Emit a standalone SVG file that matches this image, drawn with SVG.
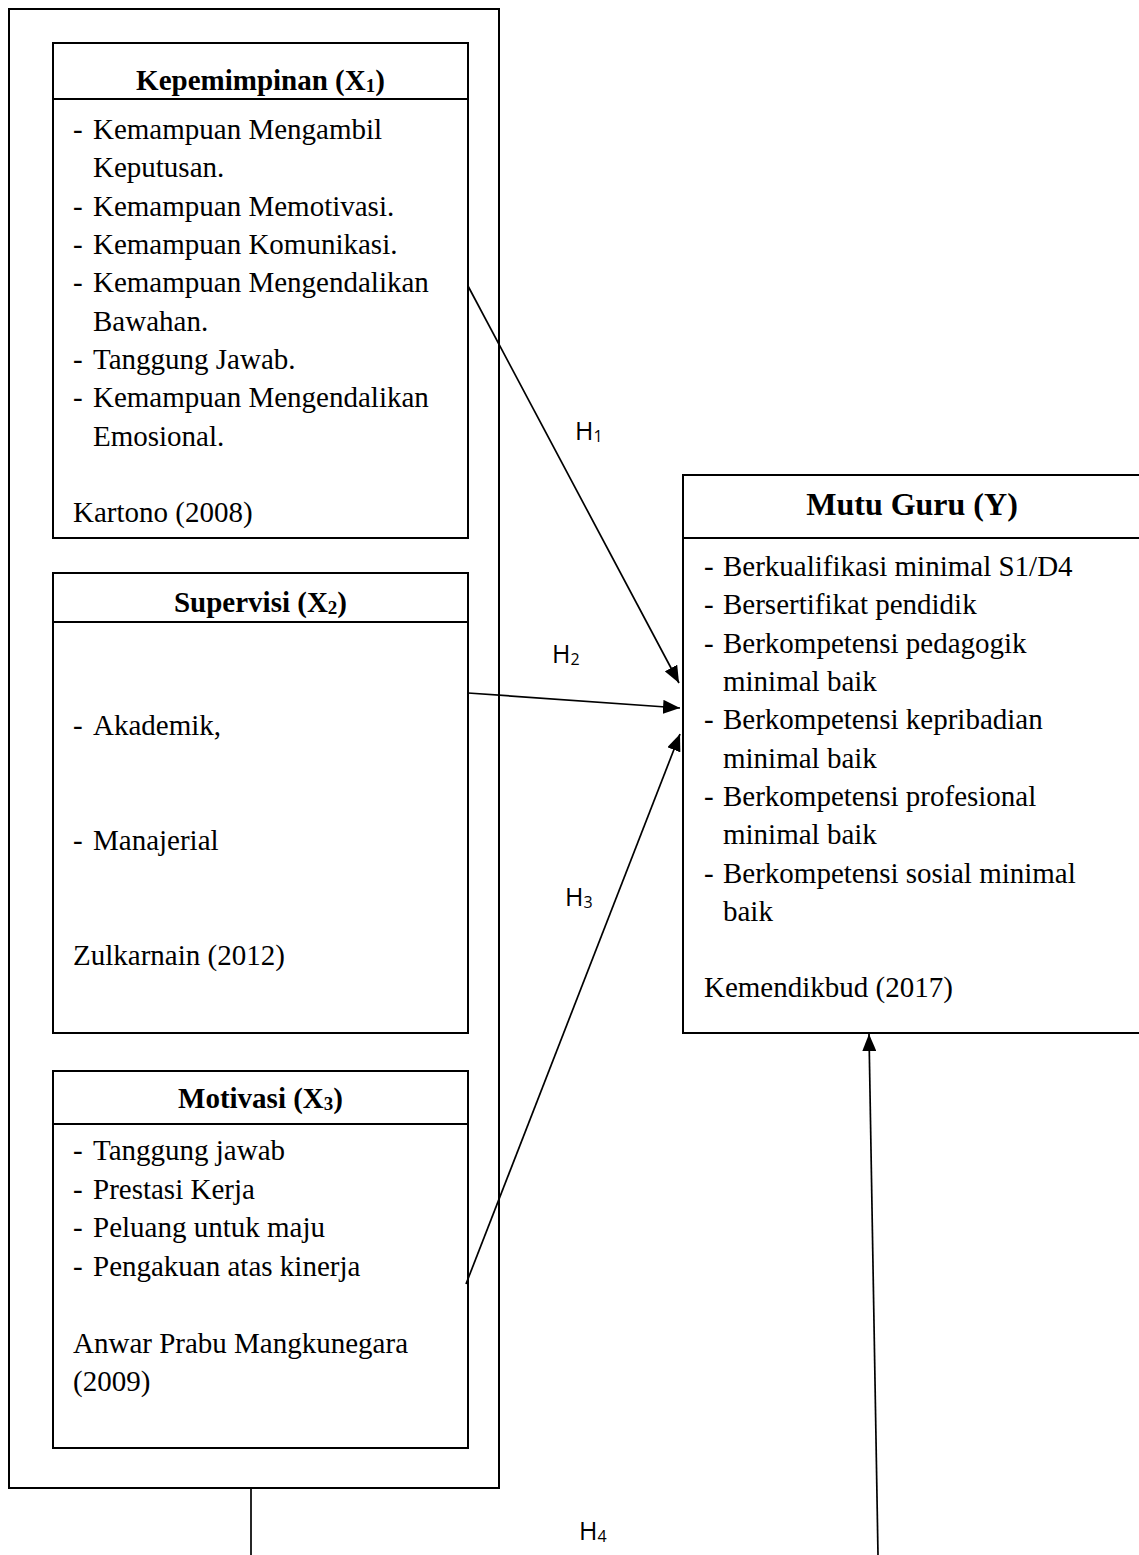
<svg xmlns="http://www.w3.org/2000/svg" width="1139" height="1555" viewBox="0 0 1139 1555">
<style>
.box{fill:none;stroke:#000;stroke-width:2}
.div{stroke:#000;stroke-width:2}
.t{font-family:"Liberation Serif","Times New Roman",serif;font-size:29px;fill:#000}
.hd{font-family:"Liberation Serif","Times New Roman",serif;font-size:29px;font-weight:bold;fill:#000;text-anchor:middle}
.hdy{font-family:"Liberation Serif","Times New Roman",serif;font-size:32px;font-weight:bold;fill:#000;text-anchor:middle}
.sub{font-size:19px}
.h{font-family:"Open Sans","Liberation Sans",sans-serif;font-size:25px;fill:#000}
.hs{font-size:16px}
.c{fill:none;stroke:#000;stroke-width:1.7}
</style>
<defs>
<marker id="arr" markerUnits="userSpaceOnUse" viewBox="0 0 17 14" refX="17" refY="7" markerWidth="17" markerHeight="14" orient="auto">
<path d="M0,0 L17,7 L0,14 Z" fill="#000"/>
</marker>
</defs>
<rect width="1139" height="1555" fill="#fff"/>

<g id="outer">
<rect class="box" x="9" y="9" width="490" height="1479"/>
</g>

<g id="kepemimpinan">
<rect class="box" x="53" y="43" width="415" height="495"/>
<line class="div" x1="53" y1="99" x2="468" y2="99"/>
<text class="hd" x="260.5" y="90">Kepemimpinan (X<tspan class="sub" dy="2">1</tspan><tspan dy="-2">)</tspan></text>
<text class="t" x="73" y="139">-</text><text class="t" x="93" y="139">Kemampuan Mengambil</text>
<text class="t" x="93" y="177">Keputusan.</text>
<text class="t" x="73" y="216">-</text><text class="t" x="93" y="216">Kemampuan Memotivasi.</text>
<text class="t" x="73" y="254">-</text><text class="t" x="93" y="254">Kemampuan Komunikasi.</text>
<text class="t" x="73" y="292">-</text><text class="t" x="93" y="292">Kemampuan Mengendalikan</text>
<text class="t" x="93" y="331">Bawahan.</text>
<text class="t" x="73" y="369">-</text><text class="t" x="93" y="369">Tanggung Jawab.</text>
<text class="t" x="73" y="407">-</text><text class="t" x="93" y="407">Kemampuan Mengendalikan</text>
<text class="t" x="93" y="446">Emosional.</text>
<text class="t" x="73" y="522">Kartono (2008)</text>
</g>

<g id="supervisi">
<rect class="box" x="53" y="573" width="415" height="460"/>
<line class="div" x1="53" y1="622" x2="468" y2="622"/>
<text class="hd" x="260.5" y="612">Supervisi (X<tspan class="sub" dy="2">2</tspan><tspan dy="-2">)</tspan></text>
<text class="t" x="73" y="735">-</text><text class="t" x="93" y="735">Akademik,</text>
<text class="t" x="73" y="850">-</text><text class="t" x="93" y="850">Manajerial</text>
<text class="t" x="73" y="965">Zulkarnain (2012)</text>
</g>

<g id="motivasi">
<rect class="box" x="53" y="1071" width="415" height="377"/>
<line class="div" x1="53" y1="1124" x2="468" y2="1124"/>
<text class="hd" x="260.5" y="1108">Motivasi (X<tspan class="sub" dy="2">3</tspan><tspan dy="-2">)</tspan></text>
<text class="t" x="73" y="1160">-</text><text class="t" x="93" y="1160">Tanggung jawab</text>
<text class="t" x="73" y="1199">-</text><text class="t" x="93" y="1199">Prestasi Kerja</text>
<text class="t" x="73" y="1237">-</text><text class="t" x="93" y="1237">Peluang untuk maju</text>
<text class="t" x="73" y="1276">-</text><text class="t" x="93" y="1276">Pengakuan atas kinerja</text>
<text class="t" x="73" y="1353">Anwar Prabu Mangkunegara</text>
<text class="t" x="73" y="1391">(2009)</text>
</g>

<g id="mutu-guru">
<rect class="box" x="683" y="475" width="460" height="558"/>
<line class="div" x1="683" y1="538" x2="1143" y2="538"/>
<text class="hdy" x="912" y="515">Mutu Guru (Y)</text>
<text class="t" x="704" y="576">-</text><text class="t" x="723" y="576">Berkualifikasi minimal S1/D4</text>
<text class="t" x="704" y="614">-</text><text class="t" x="723" y="614">Bersertifikat pendidik</text>
<text class="t" x="704" y="653">-</text><text class="t" x="723" y="653">Berkompetensi pedagogik</text>
<text class="t" x="723" y="691">minimal baik</text>
<text class="t" x="704" y="729">-</text><text class="t" x="723" y="729">Berkompetensi kepribadian</text>
<text class="t" x="723" y="768">minimal baik</text>
<text class="t" x="704" y="806">-</text><text class="t" x="723" y="806">Berkompetensi profesional</text>
<text class="t" x="723" y="844">minimal baik</text>
<text class="t" x="704" y="883">-</text><text class="t" x="723" y="883">Berkompetensi sosial minimal</text>
<text class="t" x="723" y="921">baik</text>
<text class="t" x="704" y="997">Kemendikbud (2017)</text>
</g>

<g id="connectors">
<line class="c" x1="468" y1="286" x2="679" y2="683" marker-end="url(#arr)"/>
<line class="c" x1="468" y1="693" x2="680" y2="708" marker-end="url(#arr)"/>
<line class="c" x1="466" y1="1284" x2="680" y2="734" marker-end="url(#arr)"/>
<line class="c" x1="251" y1="1488" x2="251" y2="1555"/>
<line class="c" x1="878" y1="1555" x2="869" y2="1034" marker-end="url(#arr)"/>
<text class="h" x="575" y="440">H<tspan class="hs" dy="2">1</tspan></text>
<text class="h" x="552" y="663">H<tspan class="hs" dy="2">2</tspan></text>
<text class="h" x="565" y="906">H<tspan class="hs" dy="2">3</tspan></text>
<text class="h" x="579" y="1540">H<tspan class="hs" dy="2">4</tspan></text>
</g>
</svg>
